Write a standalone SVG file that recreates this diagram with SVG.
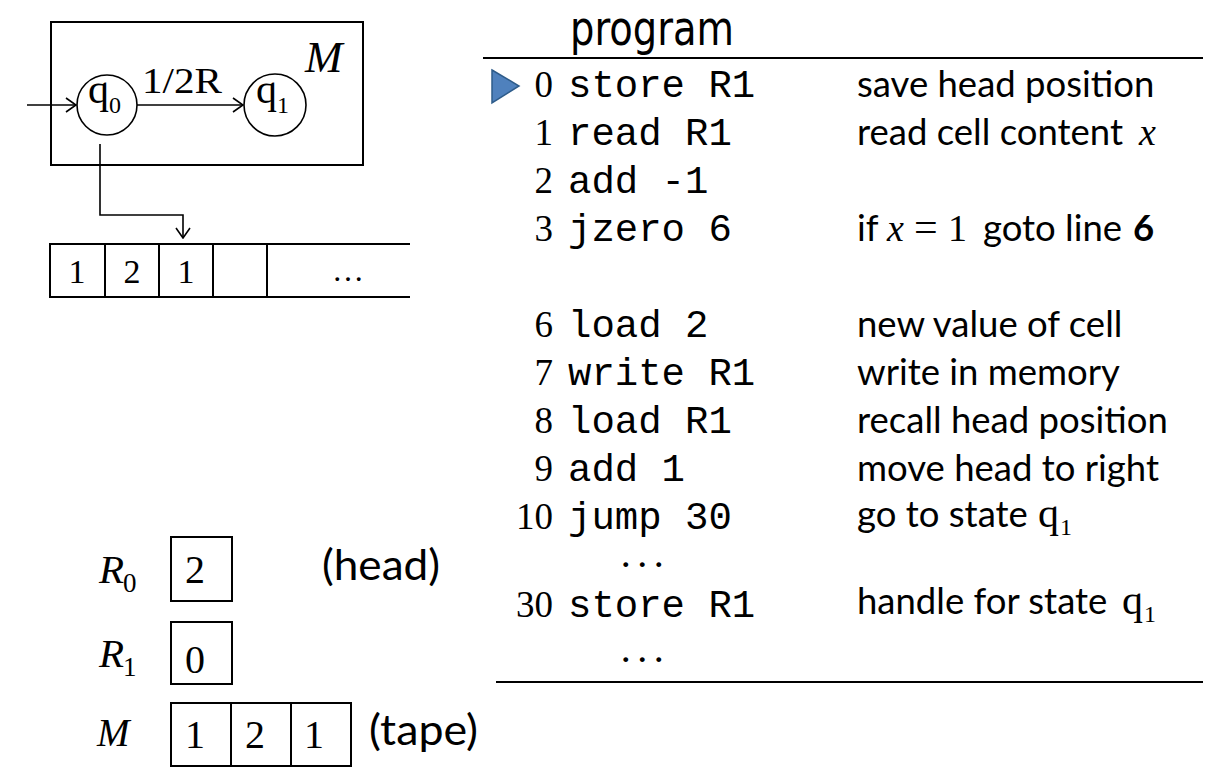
<svg xmlns="http://www.w3.org/2000/svg" width="1219" height="779" viewBox="0 0 1219 779">
<defs>
<marker id="vhead" viewBox="0 0 12 16" refX="11" refY="8" markerWidth="12" markerHeight="16" markerUnits="userSpaceOnUse" orient="auto">
<path d="M1,1 L11,8 L1,15" fill="none" stroke="#000" stroke-width="1.6"/>
</marker>
<style>
.ln{stroke:#000;stroke-width:2;fill:none}
.thin{stroke:#000;stroke-width:1.6;fill:none}
.serif{font-family:"Liberation Serif","Times New Roman",serif;fill:#000}
.it{font-style:italic}
.mono{font-family:"Liberation Mono","Courier New",monospace;font-size:39px;fill:#000}
.num{font-family:"Liberation Serif","Times New Roman",serif;font-size:37px;fill:#000;text-anchor:end}
.sans{font-family:Lato,"Open Sans","Liberation Sans",sans-serif;fill:#000}
.desc{font-family:Lato,"Open Sans","Liberation Sans",sans-serif;font-size:36.5px;fill:#000}
.dots{font-family:"Liberation Serif",serif;font-size:30px;font-weight:bold;letter-spacing:9px;fill:#000}
</style>
</defs>
<rect width="1219" height="779" fill="#fff"/>

<g id="machine">
<rect x="51" y="22" width="312" height="143" class="ln"/>
<text x="305" y="72" class="serif it" font-size="45">M</text>
</g>
<g id="state-q0">
<circle cx="107" cy="105" r="30" class="thin"/>
<text x="88" y="103" class="serif" font-size="42">q</text>
<text x="109" y="113" class="serif" font-size="24">0</text>
</g>
<g id="state-q1">
<circle cx="275" cy="105" r="31" class="thin"/>
<text x="256" y="103" class="serif" font-size="42">q</text>
<text x="277" y="113" class="serif" font-size="24">1</text>
</g>
<g id="tape-top">
<path d="M410,244 H50 V297 H410 M105,244 V297 M159,244 V297 M213,244 V297 M267,244 V297" class="ln"/>
<text x="77" y="283" class="serif" font-size="34" text-anchor="middle">1</text>
<text x="132" y="283" class="serif" font-size="34" text-anchor="middle">2</text>
<text x="186" y="283" class="serif" font-size="34" text-anchor="middle">1</text>
<text x="348" y="281" class="serif" font-size="32" text-anchor="middle">…</text>
</g>

<g id="connectors">
<line x1="27" y1="105" x2="76" y2="105" class="thin" marker-end="url(#vhead)"/>
<line x1="137" y1="105" x2="243" y2="105" class="thin" marker-end="url(#vhead)"/>
<text x="142" y="93" class="serif" font-size="35" textLength="80" lengthAdjust="spacingAndGlyphs">1/2R</text>
<polyline points="100,144 100,215 183,215 183,238" class="thin" marker-end="url(#vhead)"/>
</g>

<g id="reg-R0">
<text x="99" y="583" class="serif it" font-size="41">R</text>
<text x="123" y="592" class="serif" font-size="27">0</text>
<rect x="171" y="537" width="61" height="64" class="ln"/>
<text x="195" y="583" class="serif" font-size="40" text-anchor="middle">2</text>
<text x="322" y="580" class="sans" font-size="42" textLength="118" lengthAdjust="spacingAndGlyphs">(head)</text>
</g>
<g id="reg-R1">
<text x="99" y="667" class="serif it" font-size="41">R</text>
<text x="123" y="676" class="serif" font-size="27">1</text>
<rect x="171" y="622" width="61" height="62" class="ln"/>
<text x="195" y="673" class="serif" font-size="40" text-anchor="middle">0</text>
</g>
<g id="reg-M">
<text x="97" y="746" class="serif it" font-size="39">M</text>
<path d="M171,703 H351 V766 H171 Z M231,703 V766 M291,703 V766" class="ln"/>
<text x="195" y="748" class="serif" font-size="40" text-anchor="middle">1</text>
<text x="255" y="748" class="serif" font-size="40" text-anchor="middle">2</text>
<text x="314" y="748" class="serif" font-size="40" text-anchor="middle">1</text>
<text x="369" y="745" class="sans" font-size="42" textLength="109" lengthAdjust="spacingAndGlyphs">(tape)</text>
</g>

<g id="program">
<text x="570" y="45" font-family="'DejaVu Sans',Lato,sans-serif" font-size="48" fill="#000" textLength="164" lengthAdjust="spacingAndGlyphs">program</text>
<line x1="483" y1="58" x2="1203" y2="58" class="ln"/>
<line x1="496" y1="682" x2="1203" y2="682" class="ln"/>
<polygon points="492,70 519,86 492,103" fill="#4F81BD" stroke="#2E5C8A" stroke-width="1.5"/>

<text x="553" y="97" class="num">0</text><text x="568" y="97" class="mono">store R1</text>
<text x="857" y="97" class="desc">save head position</text>

<text x="553" y="145" class="num">1</text><text x="568" y="145" class="mono">read R1</text>
<text x="857" y="145" class="desc">read cell content <tspan x="1139" class="serif it" font-size="38">x</tspan></text>

<text x="553" y="193" class="num">2</text><text x="568" y="193" class="mono">add -1</text>

<text x="553" y="241" class="num">3</text><text x="568" y="241" class="mono">jzero 6</text>
<text x="857" y="241" class="desc">if <tspan x="887" class="serif it" font-size="38">x</tspan><tspan x="914" class="serif" font-size="42">=</tspan><tspan x="948" class="serif" font-size="38">1</tspan><tspan x="983">goto line </tspan><tspan x="1133" font-weight="bold">6</tspan></text>

<text x="553" y="337" class="num">6</text><text x="568" y="337" class="mono">load 2</text>
<text x="857" y="337" class="desc">new value of cell</text>

<text x="553" y="385" class="num">7</text><text x="568" y="385" class="mono">write R1</text>
<text x="857" y="385" class="desc">write in memory</text>

<text x="553" y="433" class="num">8</text><text x="568" y="433" class="mono">load R1</text>
<text x="857" y="433" class="desc">recall head position</text>

<text x="553" y="481" class="num">9</text><text x="568" y="481" class="mono">add 1</text>
<text x="857" y="481" class="desc">move head to right</text>

<text x="553" y="529" class="num">10</text><text x="568" y="529" class="mono">jump 30</text>
<text x="857" y="527" class="desc">go to state<tspan x="1038" class="serif" font-size="42">q</tspan><tspan x="1060" dy="8" class="serif" font-size="24">1</tspan></text>

<text x="622" y="567" class="dots">...</text>

<text x="553" y="617" class="num">30</text><text x="568" y="617" class="mono">store R1</text>
<text x="857" y="614" class="desc">handle for state<tspan x="1122" class="serif" font-size="42">q</tspan><tspan x="1144" dy="8" class="serif" font-size="24">1</tspan></text>

<text x="622" y="662" class="dots">...</text>
</g>
</svg>
